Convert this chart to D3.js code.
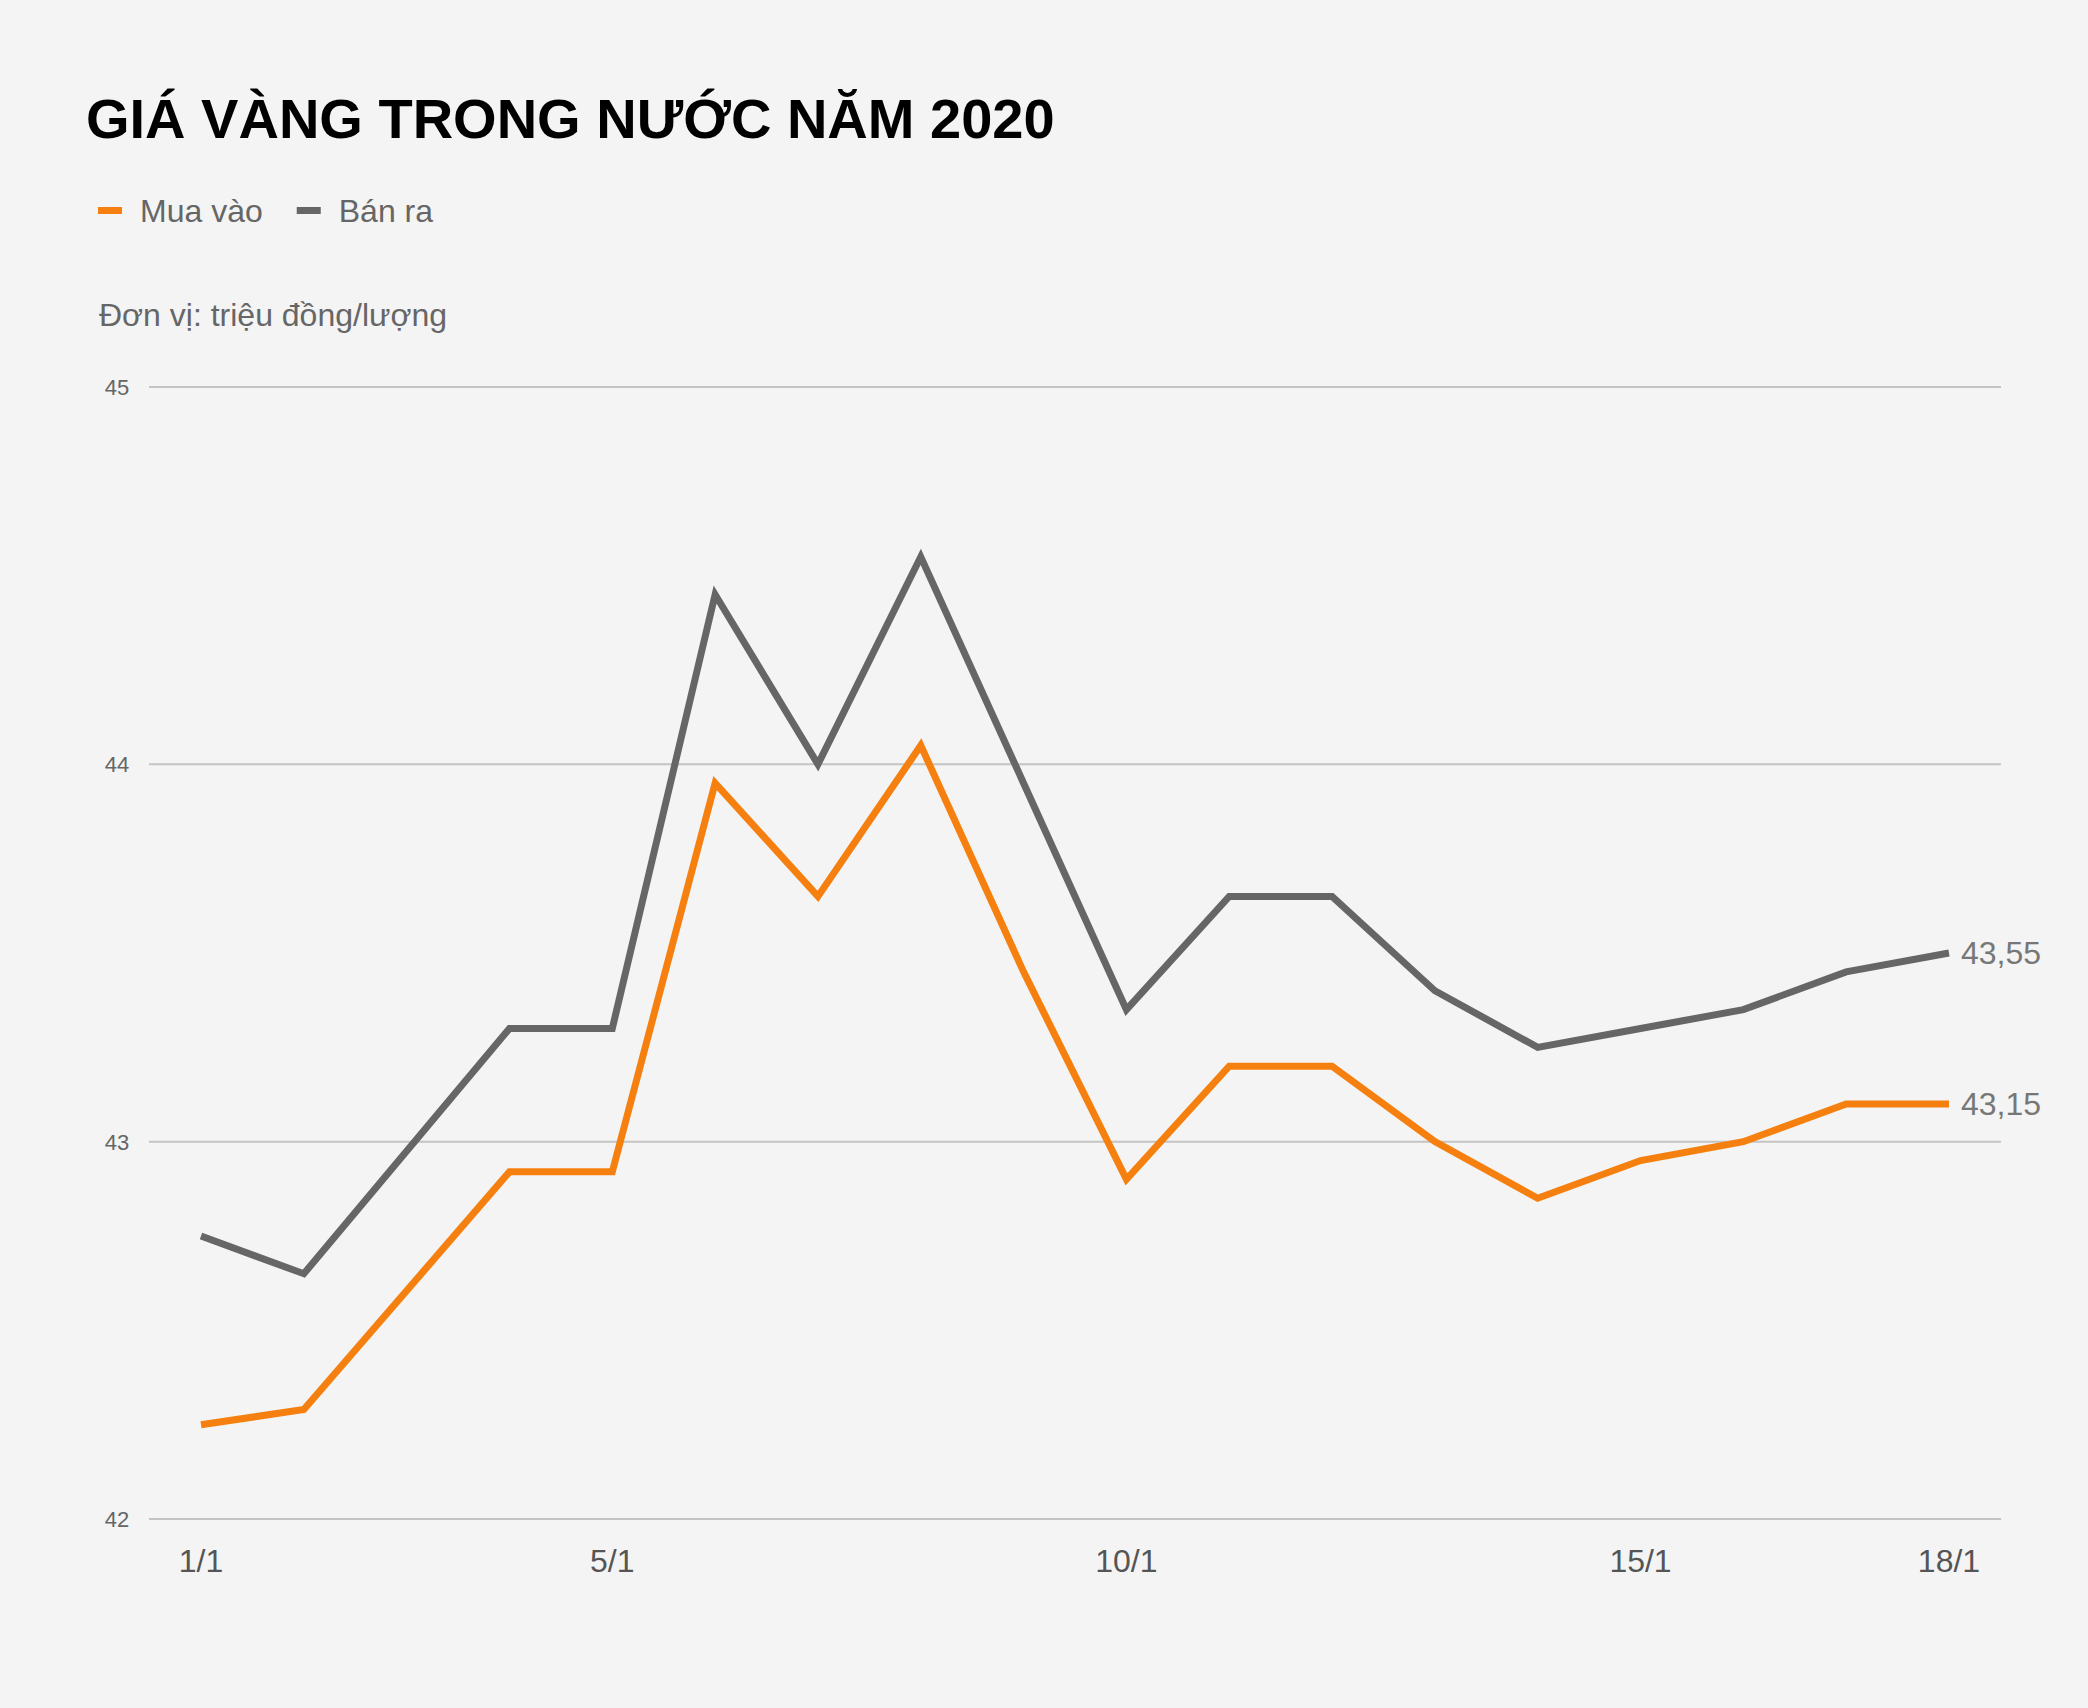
<!DOCTYPE html>
<html><head><meta charset="utf-8">
<script src="https://cdn.jsdelivr.net/npm/d3@7/dist/d3.min.js"></script>
<style>body{margin:0;background:#f4f4f4}</style></head>
<body><svg id="c" width="2088" height="1708"></svg>
<script>
const days = [1,2,4,5,6,7,8,9,10,11,12,13,14,15,16,17,18];
const muaVao = [42.25,42.29,42.92,42.92,43.95,43.65,44.05,43.45,42.9,43.2,43.2,43.0,42.85,42.95,43.0,43.1,43.1];
const banRa = [42.75,42.65,43.3,43.3,44.45,44.0,44.55,43.95,43.35,43.65,43.65,43.4,43.25,43.3,43.35,43.45,43.5];
const endLabels = ["43,15","43,55"];
const xTicks = [1,5,10,15,18];
const yTicks = [42,43,44,45];
const seriesNames = ["Mua vào","Bán ra"];
const colors = ["#f5800f","#666666"];

const svg = d3.select("#c");
const font = "Arial, 'Liberation Sans', sans-serif";
svg.append("rect").attr("width",2088).attr("height",1708).attr("fill","#f4f4f4");
const x = d3.scaleLinear().domain([1,18]).range([201,1949]);
const y = d3.scaleLinear().domain([42,45]).range([1519,387]);

svg.append("text").attr("x",86).attr("y",138).attr("font-family",font).attr("font-weight","bold")
  .attr("font-size",56).attr("fill","#000").text("GIÁ VÀNG TRONG NƯỚC NĂM 2020");
let lx = 98;
seriesNames.forEach((n,i)=>{
  svg.append("rect").attr("x",lx).attr("y",207).attr("width",24).attr("height",7).attr("fill",colors[i]);
  const t = svg.append("text").attr("x",lx+42).attr("y",222).attr("font-family",font).attr("font-size",32)
    .attr("fill","#666").text(n);
  lx += 42 + t.node().getComputedTextLength() + 34;
});
svg.append("text").attr("x",99).attr("y",326).attr("font-family",font).attr("font-size",32)
  .attr("fill","#666").text("Đơn vị: triệu đồng/lượng");

yTicks.forEach(v=>{
  svg.append("line").attr("x1",149).attr("x2",2001).attr("y1",y(v)).attr("y2",y(v))
    .attr("stroke","#c4c4c4").attr("stroke-width",2);
  svg.append("text").attr("x",117).attr("y",y(v)+8).attr("text-anchor","middle").attr("font-family",font)
    .attr("font-size",22).attr("fill","#666").text(v);
});
xTicks.forEach(d=>{
  svg.append("text").attr("x",x(d)).attr("y",1572).attr("text-anchor","middle").attr("font-family",font)
    .attr("font-size",32).attr("fill","#555").text(d+"/1");
});
const line = d3.line().x((d,i)=>x(days[i])).y(d=>y(d));
[muaVao,banRa].forEach((s,i)=>{
  svg.append("path").attr("d",line(s)).attr("fill","none").attr("stroke",colors[i]).attr("stroke-width",7)
    .attr("stroke-linejoin","miter");
  svg.append("text").attr("x",x(18)+12).attr("y",y(s[s.length-1])+11).attr("font-family",font)
    .attr("font-size",32).attr("fill","#777").text(endLabels[i]);
});
</script></body></html>
